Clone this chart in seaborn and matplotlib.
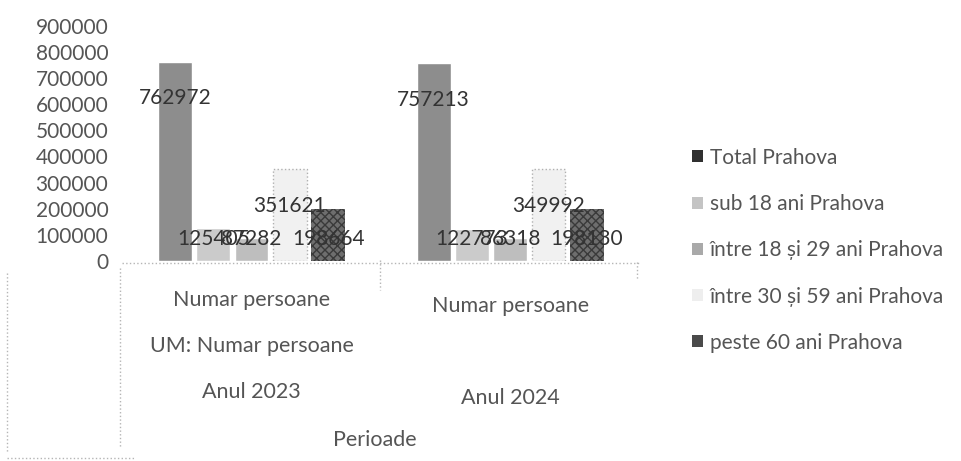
import pandas as pd
import matplotlib.pyplot as plt
import seaborn as sns
from matplotlib.patches import Patch

# Data
perioade = ['Anul 2023', 'Anul 2024']
categorii = ['Total Prahova', 'sub 18 ani Prahova', 'între 18 și 29 ani Prahova',
             'între 30 și 59 ani Prahova', 'peste 60 ani Prahova']
total = [762972, 757213]
sub_18 = [125405, 122773]
intre_18_29 = [87282, 86318]
intre_30_59 = [351621, 349992]
peste_60 = [198664, 198130]

bar_colors = ['#8d8d8d', '#cbcbcb', '#bebebe', '#f1f1f1', '#6e6e6e']
legend_colors = ['#303030', '#c4c4c4', '#a9a9a9', '#eeeeee', '#4a4a4a']

rows = []
for cat, vals in zip(categorii, [total, sub_18, intre_18_29, intre_30_59, peste_60]):
    for per, v in zip(perioade, vals):
        rows.append({'Perioade': per, 'Categorie': cat, 'Valoare': v})
df = pd.DataFrame(rows)

sns.set_style('white')
plt.rcParams['font.family'] = ['Lato', 'DejaVu Sans']

fig = plt.figure(figsize=(9.62, 4.61), dpi=100)
ax = fig.add_axes([0.127, 0.434, 0.538, 0.51])

sns.barplot(data=df, x='Perioade', y='Valoare', hue='Categorie', hue_order=categorii,
            palette=bar_colors, width=0.74, gap=0.12, errorbar=None, legend=False, ax=ax)

# styling of individual series
for patch in ax.containers[3]:
    patch.set_edgecolor('#b0b0b0')
    patch.set_linestyle(':')
    patch.set_linewidth(1)
for patch in ax.containers[4]:
    patch.set_hatch('xxxx')
    patch.set_edgecolor('#3a3a3a')
    patch.set_linewidth(0)

# data labels (Excel style, inside the bar top, kept above the axis for short bars)
for cont in ax.containers:
    for patch in cont:
        v = patch.get_height()
        ax.text(patch.get_x() + patch.get_width() / 2, max(v - 140000, 85000), f'{v:.0f}',
                ha='center', va='center', fontsize=15, color='#333333')

ax.set_ylim(0, 900000)
ax.set_xlim(-0.5, 1.5)
ax.set_yticks(range(0, 900001, 100000))
ax.tick_params(axis='y', labelsize=15, labelcolor='#555555', length=0, pad=10)
ax.set_xticks([])
ax.set_xlabel('')
ax.set_ylabel('')
for s in ax.spines.values():
    s.set_visible(False)

# multi-level category labels
tr = ax.get_xaxis_transform()
txt = dict(ha='center', va='center', fontsize=15.5, color='#555555')
ax.text(0, -0.166, 'Numar persoane', transform=tr, **txt)
ax.text(0, -0.362, 'UM: Numar persoane', transform=tr, **txt)
ax.text(0, -0.557, 'Anul 2023', transform=tr, **txt)
ax.text(1, -0.191, 'Numar persoane', transform=tr, **txt)
ax.text(1, -0.583, 'Anul 2024', transform=tr, **txt)
ax.text(0.488, -0.762, 'Perioade', transform=ax.transAxes, **txt)

# faint dotted borders of the category axis
line = dict(color='#b5b5b5', linestyle=':', linewidth=1, clip_on=False, transform=ax.transAxes)
ax.plot([0, 1], [-0.009, -0.009], **line)
ax.plot([-0.004, -0.004], [-0.03, -0.79], **line)
ax.plot([-0.222, -0.222], [-0.051, -0.813], **line)
ax.plot([-0.222, 0.025], [-0.838, -0.838], **line)
ax.plot([0.498, 0.498], [0.004, -0.123], **line)
ax.plot([0.994, 0.994], [-0.004, -0.08], **line)

handles = [Patch(facecolor=c, edgecolor='none') for c in legend_colors]
fig.legend(handles, categorii, loc='upper left', bbox_to_anchor=(0.7, 0.72),
           frameon=False, fontsize=15, labelcolor='#555555', labelspacing=1.26,
           handlelength=0.5, handleheight=0.5, handletextpad=0.35)

plt.savefig('out.png', dpi=100)
